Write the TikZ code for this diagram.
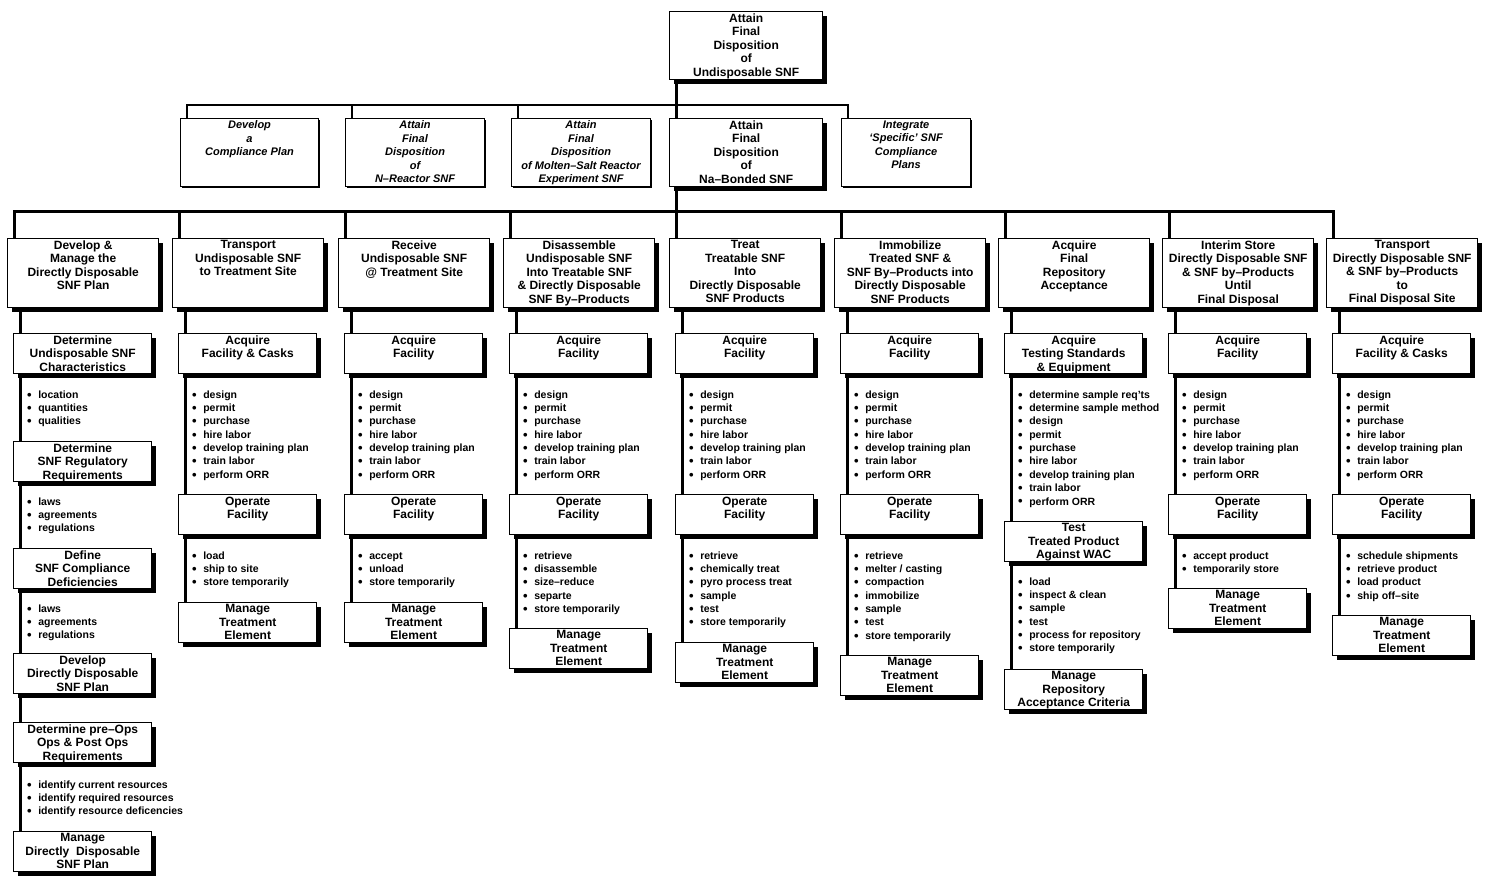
\documentclass[tikz,border=0pt]{standalone}
\usepackage{fontspec}
\setmainfont{Liberation Sans}
\usetikzlibrary{shadows}
\newcommand{\bu}{\strut\raisebox{-0.8pt}{\fontsize{13}{13}\selectfont\textbullet}\hspace{6.5pt}}

\begin{document}
\begin{tikzpicture}[x=1pt,y=-1pt,
    frame/.style={draw,fill=white,anchor=north west,inner sep=0pt},
    box/.style={frame,line width=1.4pt,
      drop shadow={shadow xshift=4pt,shadow yshift=-4pt,opacity=1,fill=black}},
    wide/.style={box,minimum width=151pt,minimum height=69pt},
    sub/.style={box,minimum width=138pt,minimum height=40pt},
    plan/.style={frame,line width=1.1pt,minimum height=68pt,
      drop shadow={shadow xshift=1.5pt,shadow yshift=-1.5pt,opacity=1,fill=black}},
    txt/.style={anchor=north,align=center,inner xsep=0pt,inner ysep=2.5pt,
      font=\bfseries\fontsize{12}{13.5}\selectfont},
    itxt/.style={txt,font=\bfseries\itshape\fontsize{11}{13.5}\selectfont},
    items/.style={anchor=north west,align=left,inner sep=0pt,
      font=\bfseries\fontsize{10.5}{13.35}\selectfont},
    link/.style={line width=3pt},
    thinlink/.style={line width=1.8pt},
  ]
  \fill[white] (0,0) rectangle (1494,890);
  \useasboundingbox (0,0) rectangle (1494,890);

  % Goal
  \node[wide,minimum width=153pt,minimum height=68pt,label={[txt]north:{Attain\\Final\\Disposition\\of\\Undisposable SNF}}] (goal) at (669,11) {};

  % Second level
  \node[plan,minimum width=138pt,label={[itxt]north:{Develop\\a\\Compliance Plan}}] (r2a) at (180,118) {};
  \node[plan,minimum width=139pt,label={[itxt]north:{Attain\\Final\\Disposition\\of\\N--Reactor SNF}}] (r2b) at (345,118) {};
  \node[plan,minimum width=139pt,label={[itxt]north:{Attain\\Final\\Disposition\\of Molten--Salt Reactor\\Experiment SNF}}] (r2c) at (511,118) {};
  \node[wide,minimum width=153pt,minimum height=68pt,label={[txt]north:{Attain\\Final\\Disposition\\of\\Na--Bonded SNF}}] (r2d) at (669,118) {};
  \node[plan,minimum width=129pt,label={[itxt]north:{Integrate\\`Specific' SNF\\Compliance\\Plans}}] (r2e) at (841,118) {};

  % Third level
  \node[wide,label={[txt]north:{Develop \&\\Manage the\\Directly Disposable\\SNF Plan}}] (r3a) at (7,238) {};
  \node[wide,label={[txt]north:{Transport\\Undisposable SNF\\to Treatment Site}}] (r3b) at (172,238) {};
  \node[wide,label={[txt]north:{Receive\\Undisposable SNF\\@ Treatment Site}}] (r3c) at (338,238) {};
  \node[wide,label={[txt]north:{Disassemble\\Undisposable SNF\\Into Treatable SNF\\\& Directly Disposable\\SNF By--Products}}] (r3d) at (503,238) {};
  \node[wide,label={[txt]north:{Treat\\Treatable SNF\\Into\\Directly Disposable\\SNF Products}}] (r3e) at (669,238) {};
  \node[wide,label={[txt]north:{Immobilize\\Treated SNF \&\\SNF By--Products into\\Directly Disposable\\SNF Products}}] (r3f) at (834,238) {};
  \node[wide,label={[txt]north:{Acquire\\Final\\Repository\\Acceptance}}] (r3g) at (998,238) {};
  \node[wide,label={[txt]north:{Interim Store\\Directly Disposable SNF\\\& SNF by--Products\\Until\\Final Disposal}}] (r3h) at (1162,238) {};
  \node[wide,label={[txt]north:{Transport\\Directly Disposable SNF\\\& SNF by--Products\\to\\Final Disposal Site}}] (r3i) at (1326,238) {};

  % Develop & manage plan
  \node[sub,label={[txt]north:{Determine\\Undisposable SNF\\Characteristics}}] (a1) at (13,333) {};
  \node[items] (la1) at ([xshift=14pt,yshift=-14.3pt]a1.south west) {\bu location\\\bu quantities\\\bu qualities};
  \node[sub,label={[txt]north:{Determine\\SNF Regulatory\\Requirements}}] (a2) at (13,441) {};
  \node[items] (la2) at ([xshift=14pt,yshift=-13.3pt]a2.south west) {\bu laws\\\bu agreements\\\bu regulations};
  \node[sub,label={[txt]north:{Define\\SNF Compliance\\Deficiencies}}] (a3) at (13,548) {};
  \node[items] (la3) at ([xshift=14pt,yshift=-13.3pt]a3.south west) {\bu laws\\\bu agreements\\\bu regulations};
  \node[sub,label={[txt]north:{Develop\\Directly Disposable\\SNF Plan}}] (a4) at (13,653) {};
  \node[sub,label={[txt]north:{Determine pre--Ops\\Ops \& Post Ops\\Requirements}}] (a5) at (13,722) {};
  \node[items] (la5) at ([xshift=14pt,yshift=-15.3pt]a5.south west) {\bu identify current resources\\\bu identify required resources\\\bu identify resource deficencies};
  \node[sub,label={[txt]north:{Manage\\Directly\ \ Disposable\\SNF Plan}}] (a6) at (13,831) {};

  % Transport to treatment site
  \node[sub,label={[txt]north:{Acquire\\Facility \& Casks}}] (b1) at (178,333) {};
  \node[items] (lb1) at ([xshift=14pt,yshift=-14.3pt]b1.south west) {\bu design\\\bu permit\\\bu purchase\\\bu hire labor\\\bu develop training plan\\\bu train labor\\\bu perform ORR};
  \node[sub,label={[txt]north:{Operate\\Facility}}] (b2) at (178,494) {};
  \node[items] (lb2) at ([xshift=14pt,yshift=-14.3pt]b2.south west) {\bu load\\\bu ship to site\\\bu store temporarily};
  \node[sub,label={[txt]north:{Manage\\Treatment\\Element}}] (b3) at (178,602) {};

  % Receive
  \node[sub,label={[txt]north:{Acquire\\Facility}}] (c1) at (344,333) {};
  \node[items] (lc1) at ([xshift=14pt,yshift=-14.3pt]c1.south west) {\bu design\\\bu permit\\\bu purchase\\\bu hire labor\\\bu develop training plan\\\bu train labor\\\bu perform ORR};
  \node[sub,label={[txt]north:{Operate\\Facility}}] (c2) at (344,494) {};
  \node[items] (lc2) at ([xshift=14pt,yshift=-14.3pt]c2.south west) {\bu accept\\\bu unload\\\bu store temporarily};
  \node[sub,label={[txt]north:{Manage\\Treatment\\Element}}] (c3) at (344,602) {};

  % Disassemble
  \node[sub,label={[txt]north:{Acquire\\Facility}}] (d1) at (509,333) {};
  \node[items] (ld1) at ([xshift=14pt,yshift=-14.3pt]d1.south west) {\bu design\\\bu permit\\\bu purchase\\\bu hire labor\\\bu develop training plan\\\bu train labor\\\bu perform ORR};
  \node[sub,label={[txt]north:{Operate\\Facility}}] (d2) at (509,494) {};
  \node[items] (ld2) at ([xshift=14pt,yshift=-14.3pt]d2.south west) {\bu retrieve\\\bu disassemble\\\bu size--reduce\\\bu separte\\\bu store temporarily};
  \node[sub,label={[txt]north:{Manage\\Treatment\\Element}}] (d3) at (509,628) {};

  % Treat
  \node[sub,label={[txt]north:{Acquire\\Facility}}] (e1) at (675,333) {};
  \node[items] (le1) at ([xshift=14pt,yshift=-14.3pt]e1.south west) {\bu design\\\bu permit\\\bu purchase\\\bu hire labor\\\bu develop training plan\\\bu train labor\\\bu perform ORR};
  \node[sub,label={[txt]north:{Operate\\Facility}}] (e2) at (675,494) {};
  \node[items] (le2) at ([xshift=14pt,yshift=-14.3pt]e2.south west) {\bu retrieve\\\bu chemically treat\\\bu pyro process treat\\\bu sample\\\bu test\\\bu store temporarily};
  \node[sub,label={[txt]north:{Manage\\Treatment\\Element}}] (e3) at (675,642) {};

  % Immobilize
  \node[sub,label={[txt]north:{Acquire\\Facility}}] (f1) at (840,333) {};
  \node[items] (lf1) at ([xshift=14pt,yshift=-14.3pt]f1.south west) {\bu design\\\bu permit\\\bu purchase\\\bu hire labor\\\bu develop training plan\\\bu train labor\\\bu perform ORR};
  \node[sub,label={[txt]north:{Operate\\Facility}}] (f2) at (840,494) {};
  \node[items] (lf2) at ([xshift=14pt,yshift=-14.3pt]f2.south west) {\bu retrieve\\\bu melter / casting\\\bu compaction\\\bu immobilize\\\bu sample\\\bu test\\\bu store temporarily};
  \node[sub,label={[txt]north:{Manage\\Treatment\\Element}}] (f3) at (840,655) {};

  % Repository acceptance
  \node[sub,label={[txt]north:{Acquire\\Testing Standards\\\& Equipment}}] (g1) at (1004,333) {};
  \node[items] (lg1) at ([xshift=14pt,yshift=-14.3pt]g1.south west) {\bu determine sample req'ts\\\bu determine sample method\\\bu design\\\bu permit\\\bu purchase\\\bu hire labor\\\bu develop training plan\\\bu train labor\\\bu perform ORR};
  \node[sub,label={[txt]north:{Test\\Treated Product\\Against WAC}}] (g2) at (1004,521) {};
  \node[items] (lg2) at ([xshift=14pt,yshift=-13.3pt]g2.south west) {\bu load\\\bu inspect \& clean\\\bu sample\\\bu test\\\bu process for repository\\\bu store temporarily};
  \node[sub,label={[txt]north:{Manage\\Repository\\Acceptance Criteria}}] (g3) at (1004,669) {};

  % Interim store
  \node[sub,label={[txt]north:{Acquire\\Facility}}] (h1) at (1168,333) {};
  \node[items] (lh1) at ([xshift=14pt,yshift=-14.3pt]h1.south west) {\bu design\\\bu permit\\\bu purchase\\\bu hire labor\\\bu develop training plan\\\bu train labor\\\bu perform ORR};
  \node[sub,label={[txt]north:{Operate\\Facility}}] (h2) at (1168,494) {};
  \node[items] (lh2) at ([xshift=14pt,yshift=-14.3pt]h2.south west) {\bu accept product\\\bu temporarily store};
  \node[sub,label={[txt]north:{Manage\\Treatment\\Element}}] (h3) at (1168,588) {};

  % Transport to disposal site
  \node[sub,label={[txt]north:{Acquire\\Facility \& Casks}}] (i1) at (1332,333) {};
  \node[items] (li1) at ([xshift=14pt,yshift=-14.3pt]i1.south west) {\bu design\\\bu permit\\\bu purchase\\\bu hire labor\\\bu develop training plan\\\bu train labor\\\bu perform ORR};
  \node[sub,label={[txt]north:{Operate\\Facility}}] (i2) at (1332,494) {};
  \node[items] (li2) at ([xshift=14pt,yshift=-14.3pt]i2.south west) {\bu schedule shipments\\\bu retrieve product\\\bu load product\\\bu ship off--site};
  \node[sub,label={[txt]north:{Manage\\Treatment\\Element}}] (i3) at (1332,615) {};

  % Connectors
  \coordinate (hub1) at (676,105);
  \coordinate (hub2) at (676,212);
  \draw[link] ([xshift=7pt]goal.south west) -- ([xshift=7pt]r2d.north west);
  \foreach \n in {r2a,r2b,r2c,r2e}
    \draw[thinlink] ([xshift=7pt]\n.north west) |- (hub1);
  \draw[link] ([xshift=7pt]r2d.south west) -- ([xshift=7pt]r3e.north west);
  \foreach \c in {a,...,i} {
    \draw[link] ([xshift=7pt]r3\c.north west) |- (hub2);
    \draw[link] ([xshift=13pt]r3\c.south west) -- ([xshift=7pt]\c1.north west);
  }
  \foreach \u/\v in {a1/a2,a2/a3,a3/a4,a4/a5,a5/a6,b1/b2,b2/b3,c1/c2,c2/c3,
      d1/d2,d2/d3,e1/e2,e2/e3,f1/f2,f2/f3,g1/g2,g2/g3,h1/h2,h2/h3,i1/i2,i2/i3}
    \draw[link] ([xshift=7pt]\u.south west) -- ([xshift=7pt]\v.north west);
\end{tikzpicture}
\end{document}
